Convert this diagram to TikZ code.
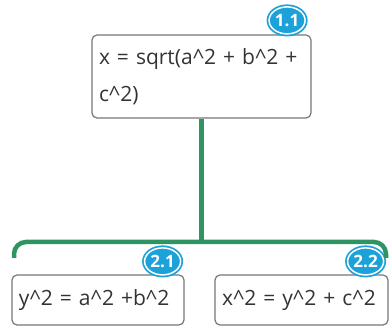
\documentclass[tikz,border=0pt]{standalone}
\usepackage{fontspec}
\setmainfont{Open Sans}
\usetikzlibrary{calc, shapes.geometric}
\definecolor{branchgreen}{HTML}{2E9462}
\definecolor{badgeblue}{HTML}{1DA1D9}
\definecolor{boxborder}{HTML}{777777}
\definecolor{eqtext}{HTML}{333333}
\newcommand{\pow}{\char"5E\relax}
\tikzset{
    topic/.style={
        rectangle, draw=boxborder, fill=white,
        rounded corners=5pt, line width=1.2pt,
        align=left, font=\fontsize{21}{36.5}\selectfont,
        text=eqtext, inner xsep=7pt
    },
    badge/.style={
        ellipse, fill=badgeblue, draw=white, line width=1.5pt,
        preaction={draw=badgeblue, line width=5pt},
        minimum width=36pt, minimum height=27pt, inner sep=0pt,
        font=\fontsize{17}{17}\selectfont\bfseries, text=white
    },
    branch/.style={
        draw=branchgreen, line width=4.5pt
    }
}

\begin{document}
\begin{tikzpicture}[x=1pt, y=1pt]
    \useasboundingbox (0,0) rectangle (389,328);

    \node[topic, minimum width=219pt, minimum height=83pt, text width=205pt] (root) at (201.5,251.5) {\mbox{x = sqrt(a\pow2 + b\pow2 +}\\\mbox{c\pow2)}};
    \node[topic, minimum width=172pt, minimum height=50pt, text width=158pt] (left) at (98,28) {\mbox{y\pow2 = a\pow2 +b\pow2}};
    \node[topic, minimum width=173pt, minimum height=50pt, text width=159pt] (right) at (301.5,28) {\mbox{x\pow2 = y\pow2 + c\pow2}};

    % numbering badges
    \node[badge] (b11) at ($(root.north east)+(-24.5,14)$) {1.1};
    \node[badge] (b21) at ($(left.north east)+(-22,13)$) {2.1};
    \node[badge] (b22) at ($(right.north east)+(-23,13)$) {2.2};

    % branch
    \coordinate (bar) at (root.south |- 0,86);
    \coordinate (lhook) at (14,70);
    \coordinate (rhook) at (386,70);
    \draw[branch] (root.south) -- (bar);
    \draw[branch, rounded corners=12pt] (lhook) |- (bar) -| (rhook);
\end{tikzpicture}
\end{document}
